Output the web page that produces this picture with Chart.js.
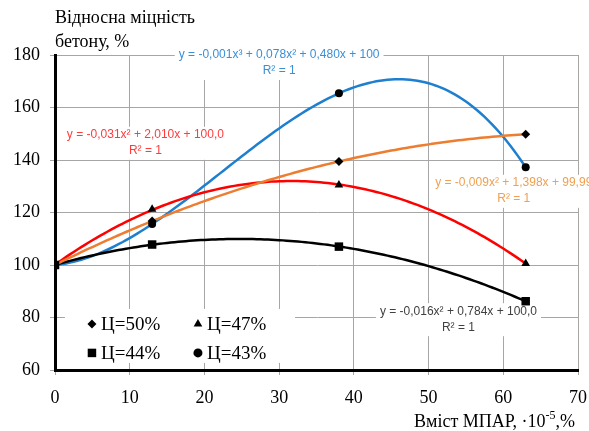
<!DOCTYPE html>
<html>
<head>
<meta charset="utf-8">
<script src="https://cdn.jsdelivr.net/npm/chart.js@4"></script>
<style>html,body{margin:0;padding:0;background:#fff}</style>
</head>
<body>
<div style="width:589px;height:431px"><canvas id="chart"></canvas></div>
<script>
// content of additive, x 10^-5 %
var xValues = [0, 13, 38, 63];
// relative strength of concrete, %
var c50 = [100, 116.8, 139.4, 149.8];
var c47 = [100, 121.2, 130.5, 100.6];
var c44 = [100, 107.8, 107.0, 86.2];
var c43 = [100, 115.6, 165.4, 137.2];
var seriesLabels = ['Ц=50%', 'Ц=47%', 'Ц=44%', 'Ц=43%'];
var equations = [
  'y = -0,009x\u00b2 + 1,398x + 99,99',
  'y = -0,031x\u00b2 + 2,010x + 100,0',
  'y = -0,016x\u00b2 + 0,784x + 100,0',
  'y = -0,001x\u00b3 + 0,078x\u00b2 + 0,480x + 100'
];

var serif = "'Times New Roman', 'Liberation Serif', 'DejaVu Serif', serif";

// least squares polynomial fit (trendline like in excel)
function polyfit(xs, ys, deg) {
  var n = deg + 1, A = [], i, j, k;
  for (i = 0; i < n; i++) {
    A.push([]);
    for (j = 0; j <= n; j++) A[i].push(0);
  }
  for (k = 0; k < xs.length; k++) {
    for (i = 0; i < n; i++) {
      for (j = 0; j < n; j++) A[i][j] += Math.pow(xs[k], i + j);
      A[i][n] += ys[k] * Math.pow(xs[k], i);
    }
  }
  for (i = 0; i < n; i++) {
    var p = i;
    for (j = i + 1; j < n; j++) if (Math.abs(A[j][i]) > Math.abs(A[p][i])) p = j;
    var t = A[i]; A[i] = A[p]; A[p] = t;
    for (j = i + 1; j < n; j++) {
      var f = A[j][i] / A[i][i];
      for (k = i; k <= n; k++) A[j][k] -= f * A[i][k];
    }
  }
  var c = new Array(n);
  for (i = n - 1; i >= 0; i--) {
    var s = A[i][n];
    for (j = i + 1; j < n; j++) s -= A[i][j] * c[j];
    c[i] = s / A[i][i];
  }
  return c;
}

function trend(ys, deg) {
  var c = polyfit(xValues, ys, deg), pts = [];
  for (var x = xValues[0]; x <= xValues[xValues.length - 1] + 0.001; x += 0.5) {
    var y = 0;
    for (var i = 0; i < c.length; i++) y += c[i] * Math.pow(x, i);
    pts.push({x: x, y: y});
  }
  return pts;
}

function pts(ys) {
  return xValues.map(function (x, i) { return {x: x, y: ys[i]}; });
}

function lineSet(data, color) {
  return {data: data, showLine: true, borderColor: color, borderWidth: 2.5,
    pointRadius: 0, tension: 0, order: 1};
}
function markSet(label, data, style, r) {
  return {label: label, data: data, showLine: false, pointStyle: style, pointRadius: r,
    backgroundColor: '#000', borderColor: '#000', borderWidth: 0, order: 0};
}

// equation labels: [text index, color, x, y] anchored in data units
var labelSpots = [
  [3, '#3a8fd6', 30.0, 180.0],
  [1, '#ff3b3b', 12.1, 149.6],
  [0, '#f0a050', 61.4, 131.3],
  [2, '#404040', 54.0, 82.4]
];

var extras = {
  id: 'extras',
  beforeDatasetsDraw: function (chart) {
    var ctx = chart.ctx, xs = chart.scales.x, ys = chart.scales.y;
    ctx.save();
    // equation boxes
    ctx.font = "12px 'Liberation Sans', Arial, sans-serif";
    ctx.textAlign = 'center';
    ctx.textBaseline = 'middle';
    labelSpots.forEach(function (l) {
      var px = xs.getPixelForValue(l[2]), py = ys.getPixelForValue(l[3]);
      var w = ctx.measureText(equations[l[0]]).width;
      ctx.fillStyle = '#fff';
      ctx.fillRect(px - w / 2 - 4, py - 8, w + 8, 33);
      ctx.fillStyle = l[1];
      ctx.fillText(equations[l[0]], px, py);
      ctx.fillText('R\u00b2 = 1', px, py + 16);
    });
    // legend inside plot
    var lx = xs.getPixelForValue(1.6), ly = ys.getPixelForValue(80.6);
    ctx.fillStyle = '#fff';
    ctx.fillRect(lx - 2, ly - 7, 230, 54);
    var styles = ['rectRot', 'triangle', 'rect', 'circle'];
    var radii = [4.5, 5, 6, 4.5];
    ctx.font = '19px ' + serif;
    ctx.textAlign = 'left';
    for (var i = 0; i < 4; i++) {
      var mx = lx + 25 + (i % 2) * 106, my = ly + 8 + Math.floor(i / 2) * 29;
      ctx.fillStyle = '#000';
      Chart.helpers.drawPoint(ctx, {pointStyle: styles[i], radius: radii[i], borderWidth: 0}, mx, my);
      ctx.fillText(seriesLabels[i], mx + 9, my + 1);
    }
    ctx.restore();
  },
  afterDraw: function (chart) {
    var ctx = chart.ctx, area = chart.chartArea;
    ctx.save();
    ctx.fillStyle = '#000';
    ctx.textBaseline = 'middle';
    ctx.textAlign = 'left';
    ctx.font = '18px ' + serif;
    ctx.fillText('Відносна міцність', area.left, 18);
    ctx.fillText('бетону, %', area.left, 42);
    // x axis title with superscript
    var a = 'Вміст МПАР, ·10', b = '-5', c = ',%';
    ctx.font = '18px ' + serif;
    var wa = ctx.measureText(a).width, wc = ctx.measureText(c).width;
    ctx.font = '12px ' + serif;
    var wb = ctx.measureText(b).width;
    var x0 = 575 - wa - wb - wc, y0 = 422;
    ctx.font = '18px ' + serif;
    ctx.fillText(a, x0, y0);
    ctx.fillText(c, x0 + wa + wb, y0);
    ctx.font = '12px ' + serif;
    ctx.fillText(b, x0 + wa, y0 - 6);
    ctx.restore();
  }
};

new Chart(document.getElementById('chart'), {
  type: 'scatter',
  data: {
    datasets: [
      markSet(seriesLabels[0], pts(c50), 'rectRot', 4.5),
      markSet(seriesLabels[1], pts(c47), 'triangle', 5),
      markSet(seriesLabels[2], pts(c44), 'rect', 6),
      markSet(seriesLabels[3], pts(c43), 'circle', 4),
      lineSet(trend(c50, 2), '#ED7D31'),
      lineSet(trend(c47, 2), '#FF0000'),
      lineSet(trend(c44, 2), '#000000'),
      lineSet(trend(c43, 3), '#1F7FCF')
    ]
  },
  options: {
    responsive: true,
    maintainAspectRatio: false,
    animation: false,
    layout: {padding: {top: 55, right: 11, left: 0, bottom: 0}},
    plugins: {legend: {display: false}, tooltip: {enabled: false}},
    scales: {
      x: {
        min: 0, max: 70,
        ticks: {stepSize: 10, color: '#000', font: {family: serif, size: 18}, padding: 12},
        grid: {color: '#a6a6a6', lineWidth: 1, tickLength: 5},
        border: {color: '#000', width: 3},
        afterFit: function (s) { s.height = 61; s.paddingLeft = 0; s.paddingRight = 0; }
      },
      y: {
        min: 60, max: 180,
        ticks: {stepSize: 20, color: '#000', font: {family: serif, size: 18}, padding: 10},
        grid: {color: '#a6a6a6', lineWidth: 1, tickLength: 5},
        border: {color: '#000', width: 3},
        afterFit: function (s) { s.width = 55; s.paddingTop = 0; s.paddingBottom = 0; }
      }
    }
  },
  plugins: [extras]
});
</script>
</body>
</html>
